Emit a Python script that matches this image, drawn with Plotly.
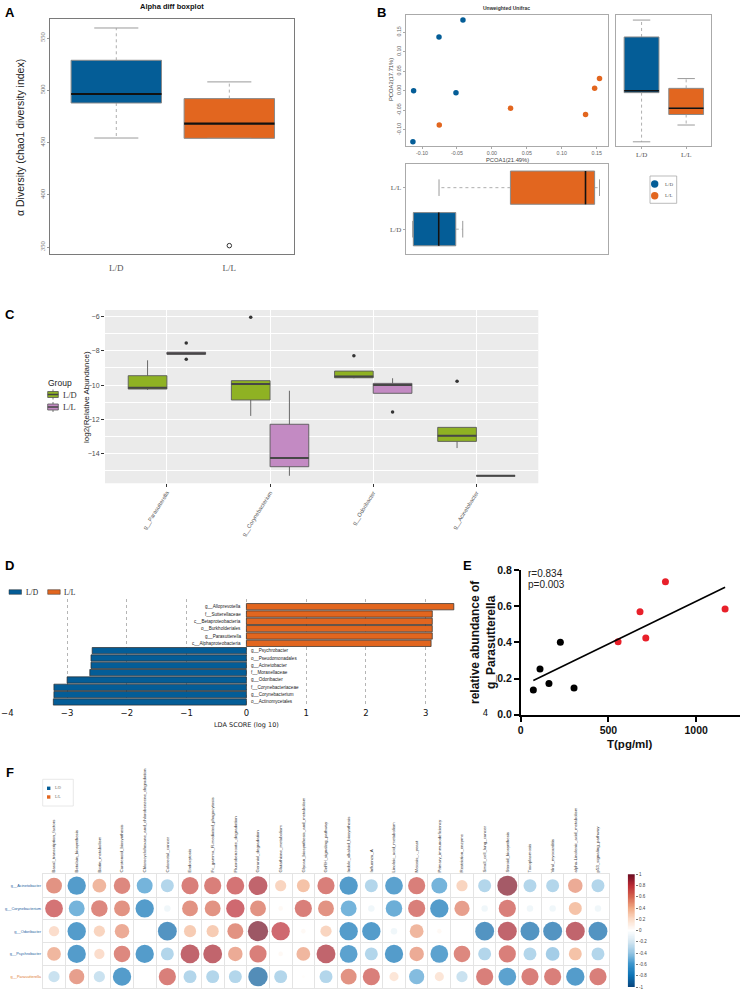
import numpy as np
import plotly.graph_objects as go

# ======================= DATA =======================
# Panel A  (chao1 alpha diversity, box statistics)
A_GROUPS = ["L/D", "L/L"]
A_Q1 = [487.8, 454.0]
A_MEDIAN = [496.4, 468.0]
A_Q3 = [528.7, 492.0]
A_LOWER = [454.3, 454.0]
A_UPPER = [559.6, 508.0]
A_OUTLIER_GROUP = [2]
A_OUTLIER_VALUE = [351.3]

# Panel B  (PCoA, unweighted UniFrac)
B_GROUPS = ["L/D", "L/L"]
B_PC1_LD = [-0.0414, -0.0757, -0.112, -0.0514, -0.113]
B_PC2_LD = [0.181, 0.1377, 0.0, -0.005, -0.131]
B_PC1_LL = [0.154, 0.147, 0.0267, 0.134, -0.0753]
B_PC2_LL = [0.031, 0.006, -0.045, -0.061, -0.088]
B_TICKS = [-0.10, -0.05, 0.00, 0.05, 0.10, 0.15]

# Panel C  (log2 relative abundance box statistics)
C_TAXA = ["g__Parasutterella", "g__Corynebacterium", "g__Odoribacter", "g__Acinetobacter"]
C_LD_Q1 = [-10.23, -10.87, -9.57, -13.29]
C_LD_MED = [-10.15, -9.94, -9.49, -12.96]
C_LD_Q3 = [-9.45, -9.74, -9.18, -12.47]
C_LD_LO = [-10.28, -11.80, -9.60, -13.68]
C_LD_HI = [-8.55, -9.74, -9.18, -12.47]
C_LD_OUT = [[], [-6.04], [-8.28], [-9.78]]
C_LL_Q1 = [-8.20, -14.77, -10.48, -15.30]
C_LL_MED = [-8.15, -14.26, -9.99, -15.30]
C_LL_Q3 = [-8.08, -12.29, -9.90, -15.30]
C_LL_LO = [-8.20, -15.30, -10.48, -15.30]
C_LL_HI = [-8.08, -10.33, -9.60, -15.30]
C_LL_OUT = [[-7.54, -8.49], [], [-11.57], []]
C_YTICKS = [-14, -12, -10, -8, -6]

# Panel D  (LEfSe LDA scores)
D_FEATURES = ["g__Alloprevotella", "f__Sutterellaceae", "c__Betaproteobacteria",
              "o__Burkholderiales", "g__Parasutterella", "c__Alphaproteobacteria",
              "g__Psychrobacter", "o__Pseudomonadales", "g__Acinetobacter",
              "f__Moraxellaceae", "g__Odoribacter", "f__Corynebacteriaceae",
              "g__Corynebacterium", "o__Actinomycetales"]
D_SCORES = [3.47, 3.11, 3.11, 3.11, 3.11, 3.09,
            -2.58, -2.60, -2.60, -2.62, -3.00, -3.22, -3.22, -3.23]
D_GROUP = ["L/L"] * 6 + ["L/D"] * 8
D_TICKS = [-4, -3, -2, -1, 0, 1, 2, 3, 4]

# Panel E  (correlation T vs g_Parasutterella)
E_T_LD = [72, 110, 161, 226, 304]
E_AB_LD = [0.136, 0.252, 0.173, 0.400, 0.148]
E_T_LL = [555, 680, 713, 825, 1165]
E_AB_LL = [0.403, 0.569, 0.424, 0.735, 0.584]
E_STATS_TEXT = ["r=0.834", "p=0.003"]
E_YTICKS = [0.0, 0.2, 0.4, 0.6, 0.8]
E_XTICKS = [0, 500, 1000]

# Panel F  (correlation heatmap genera x KEGG pathways)
F_ROWS = ["g__Acinetobacter", "g__Corynebacterium", "g__Odoribacter",
          "g__Psychrobacter", "g__Parasutterella"]
F_ROW_GROUP = ["L/D", "L/D", "L/D", "L/D", "L/L"]
F_COLS = ["Basal_transcription_factors", "Betalain_biosynthesis", "Biotin_metabolism",
          "Carotenoid_biosynthesis", "Chlorocyclohexane_and_chlorobenzene_degradation",
          "Colorectal_cancer", "Endocytosis", "Fc_gamma_R-mediated_phagocytosis",
          "Fluorobenzoate_degradation", "Geraniol_degradation", "Glutathione_metabolism",
          "Glycan_biosynthesis_and_metabolism", "GnRH_signaling_pathway",
          "Indole_alkaloid_biosynthesis", "Influenza_A", "Linoleic_acid_metabolism",
          "Meiosis_-_yeast", "Primary_immunodeficiency", "Restriction_enzyme",
          "Small_cell_lung_cancer", "Steroid_biosynthesis", "Toxoplasmosis",
          "Viral_myocarditis", "alpha-Linolenic_acid_metabolism", "p53_signaling_pathway"]
F_R = [
    [0.60, -0.80, 0.45, 0.65, -0.60, -0.40, 0.70, 0.70, 0.75, 0.85, 0.30, 0.40, 0.70,
     -0.80, -0.40, -0.75, 0.70, -0.60, 0.30, -0.40, 0.95, -0.40, -0.40, 0.50, -0.40],
    [0.75, -0.60, 0.65, 0.60, -0.80, -0.10, 0.60, 0.60, 0.80, 0.60, 0.05, 0.70, 0.60,
     -0.60, -0.10, -0.65, 0.70, -0.80, 0.55, -0.10, 0.70, -0.10, -0.10, 0.40, -0.10],
    [0.25, -0.80, 0.30, 0.50, 0.00, -0.85, 0.35, 0.35, 0.60, 0.98, 0.80, 0.05, 0.30,
     -0.80, -0.80, -0.10, 0.45, 0.05, 0.00, -0.85, 0.85, -0.85, -0.85, 0.85, -0.85],
    [0.45, -0.80, 0.25, 0.65, -0.80, -0.40, 0.85, 0.85, 0.50, 0.70, 0.05, 0.45, 0.85,
     -0.75, -0.40, -0.80, 0.50, -0.75, 0.65, -0.40, 0.70, -0.40, -0.45, 0.40, -0.40],
    [-0.30, 0.55, -0.30, -0.80, 0.00, 0.70, -0.40, -0.40, -0.40, -0.90, -0.40, 0.02, -0.40,
     0.60, 0.70, 0.20, -0.55, 0.20, -0.30, 0.70, -0.75, 0.70, 0.70, -0.80, 0.70],
]
F_CB_TICKS = [1, 0.8, 0.6, 0.4, 0.2, 0, -0.2, -0.4, -0.6, -0.8, -1]

# ======================= STYLE =======================
W, H = 741, 991
BLUE = "#045d97"
ORANGE = "#e2661f"
GREEN = "#8fb223"
PURPLE = "#c38ac3"
RED = "#e8202a"
GROUP_COL = {"L/D": BLUE, "L/L": ORANGE}
SANS = "Liberation Sans"
SERIF = "Liberation Serif"
RDBU = [[0.0, "#08467f"], [0.1, "#0b72b5"], [0.2, "#3a94cc"], [0.3, "#93c4e2"],
        [0.4, "#d4e6f1"], [0.5, "#ffffff"], [0.6, "#fbdcc8"], [0.7, "#f1a983"],
        [0.8, "#d6654f"], [0.9, "#bb2a33"], [1.0, "#6b0c22"]]


def fx(p):
    return p / W


def fy(p):
    return 1 - p / H


def dx(a, b):
    return [a / W, b / W]


def dy(top, bottom):
    return [1 - bottom / H, 1 - top / H]


fig = go.Figure()
annotations = []
shapes = []


def ann(x, y, text, size, color="#000", family=SANS, weight="normal", xanchor="center",
        yanchor="middle", angle=0, xref="paper", yref="paper", xshift=0):
    annotations.append(dict(
        x=x, y=y, xref=xref, yref=yref, text=text, showarrow=False, xanchor=xanchor,
        yanchor=yanchor, textangle=angle, xshift=xshift,
        font=dict(size=size, color=color, family=family, weight=weight)))


def r_box(xa, ya, pos, q1, med, q3, lo, hi, fill, bw, capw, horizontal=False,
          border="#8a8a8a", wcol="#9a9a9a", medcol="#111111", medw=2.0):
    common = dict(xaxis=xa, yaxis=ya, hoverinfo="skip", showlegend=False)
    if horizontal:
        fig.add_trace(go.Box(y=[pos], q1=[q1], median=[med], q3=[q3], lowerfence=[q1],
                             upperfence=[q3], orientation="h", width=bw, fillcolor=fill,
                             line=dict(color=border, width=1), whiskerwidth=0,
                             boxpoints=False, **common))
        fig.add_trace(go.Scatter(x=[q3, hi, None, q1, lo], y=[pos, pos, None, pos, pos],
                                 mode="lines", line=dict(color=wcol, width=0.8, dash="dot"), **common))
        fig.add_trace(go.Scatter(x=[hi, hi, None, lo, lo],
                                 y=[pos - capw / 2, pos + capw / 2, None, pos - capw / 2, pos + capw / 2],
                                 mode="lines", line=dict(color=wcol, width=1), **common))
        fig.add_trace(go.Scatter(x=[med, med], y=[pos - bw / 2, pos + bw / 2], mode="lines",
                                 line=dict(color=medcol, width=medw), **common))
    else:
        fig.add_trace(go.Box(x=[pos], q1=[q1], median=[med], q3=[q3], lowerfence=[q1],
                             upperfence=[q3], orientation="v", width=bw, fillcolor=fill,
                             line=dict(color=border, width=1), whiskerwidth=0,
                             boxpoints=False, **common))
        fig.add_trace(go.Scatter(y=[q3, hi, None, q1, lo], x=[pos, pos, None, pos, pos],
                                 mode="lines", line=dict(color=wcol, width=0.8, dash="dot"), **common))
        fig.add_trace(go.Scatter(y=[hi, hi, None, lo, lo],
                                 x=[pos - capw / 2, pos + capw / 2, None, pos - capw / 2, pos + capw / 2],
                                 mode="lines", line=dict(color=wcol, width=1), **common))
        fig.add_trace(go.Scatter(y=[med, med], x=[pos - bw / 2, pos + bw / 2], mode="lines",
                                 line=dict(color=medcol, width=medw), **common))


def box_stats(v):
    v = np.sort(np.asarray(v, dtype=float))
    q1, med, q3 = np.percentile(v, [25, 50, 75])
    iqr = q3 - q1
    lo = v[v >= q1 - 1.5 * iqr].min()
    hi = v[v <= q3 + 1.5 * iqr].max()
    return q1, med, q3, lo, hi


# ---------------- Panel A ----------------
for i, g in enumerate(A_GROUPS):
    r_box("x", "y", i + 1, A_Q1[i], A_MEDIAN[i], A_Q3[i], A_LOWER[i], A_UPPER[i],
          GROUP_COL[g], 0.8, 0.39, medw=2.2)
fig.add_trace(go.Scatter(x=A_OUTLIER_GROUP, y=A_OUTLIER_VALUE, mode="markers",
                         marker=dict(symbol="circle-open", size=4.5, color="#333",
                                     line=dict(width=1)),
                         xaxis="x", yaxis="y", showlegend=False, hoverinfo="skip"))

# ---------------- Panel B ----------------
b_pc1 = [B_PC1_LD, B_PC1_LL]
b_pc2 = [B_PC2_LD, B_PC2_LL]
for i, g in enumerate(B_GROUPS):
    fig.add_trace(go.Scatter(x=b_pc1[i], y=b_pc2[i], mode="markers",
                             marker=dict(color=GROUP_COL[g], size=5.5),
                             xaxis="x2", yaxis="y2", showlegend=False, hoverinfo="skip"))
    s2 = box_stats(b_pc2[i])
    r_box("x3", "y3", i + 1, *s2, GROUP_COL[g], 0.78, 0.39, medw=1.6)
    s1 = box_stats(b_pc1[i])
    r_box("x4", "y4", i + 1, *s1, GROUP_COL[g], 0.8, 0.4, horizontal=True, medw=1.6)

# ---------------- Panel C ----------------
c_sets = [
    ("L/D", -0.1875, GREEN, C_LD_Q1, C_LD_MED, C_LD_Q3, C_LD_LO, C_LD_HI, C_LD_OUT),
    ("L/L", 0.1875, PURPLE, C_LL_Q1, C_LL_MED, C_LL_Q3, C_LL_LO, C_LL_HI, C_LL_OUT),
]
for g, off, col, q1s, meds, q3s, los, his, outs in c_sets:
    for i in range(len(C_TAXA)):
        pos = i + 1 + off
        fig.add_trace(go.Box(x=[pos], q1=[q1s[i]], median=[meds[i]], q3=[q3s[i]],
                             lowerfence=[los[i]], upperfence=[his[i]], width=0.375,
                             fillcolor=col, line=dict(color="#5a5a5a", width=0.9),
                             whiskerwidth=0, boxpoints=False, xaxis="x5", yaxis="y5",
                             showlegend=False, hoverinfo="skip"))
        fig.add_trace(go.Scatter(x=[pos - 0.1875, pos + 0.1875], y=[meds[i], meds[i]],
                                 mode="lines", line=dict(color="#474747", width=2),
                                 xaxis="x5", yaxis="y5", showlegend=False, hoverinfo="skip"))
        if outs[i]:
            fig.add_trace(go.Scatter(x=[pos] * len(outs[i]), y=outs[i], mode="markers",
                                     marker=dict(color="#333", size=3.5),
                                     xaxis="x5", yaxis="y5", showlegend=False, hoverinfo="skip"))

# ---------------- Panel D ----------------
d_pos = list(range(len(D_FEATURES)))
fig.add_trace(go.Bar(x=D_SCORES, y=d_pos, orientation="h", width=0.86,
                     marker=dict(color=[GROUP_COL[g] for g in D_GROUP],
                                 line=dict(color="#2b2b2b", width=0.7)),
                     xaxis="x6", yaxis="y6", showlegend=False, hoverinfo="skip"))
for i, (feat, sc) in enumerate(zip(D_FEATURES, D_SCORES)):
    ann(0, d_pos[i], feat, 4.6, color="#222", xref="x6", yref="y6",
        xanchor="right" if sc > 0 else "left", xshift=-3 if sc > 0 else 3)

# ---------------- Panel E ----------------
fig.add_trace(go.Scatter(x=E_T_LD, y=E_AB_LD, mode="markers", marker=dict(color="black", size=7),
                         xaxis="x7", yaxis="y7", showlegend=False, hoverinfo="skip"))
fig.add_trace(go.Scatter(x=E_T_LL, y=E_AB_LL, mode="markers", marker=dict(color=RED, size=7),
                         xaxis="x7", yaxis="y7", showlegend=False, hoverinfo="skip"))
t_all = np.array(E_T_LD + E_T_LL, dtype=float)
a_all = np.array(E_AB_LD + E_AB_LL, dtype=float)
slope, icpt = np.polyfit(t_all, a_all, 1)
xs_fit = np.array([t_all.min(), t_all.max()])
fig.add_trace(go.Scatter(x=xs_fit, y=slope * xs_fit + icpt, mode="lines",
                         line=dict(color="black", width=1.6),
                         xaxis="x7", yaxis="y7", showlegend=False, hoverinfo="skip"))

# ---------------- Panel F ----------------
fxs, fys, fvals = [], [], []
for i, row in enumerate(F_R):
    for j, v in enumerate(row):
        fxs.append(j + 1)
        fys.append(i + 1)
        fvals.append(v)
fsizes = [20.5 * np.sqrt(abs(v)) for v in fvals]
fig.add_trace(go.Scatter(
    x=fxs, y=fys, mode="markers",
    marker=dict(size=fsizes, color=fvals, cmin=-1, cmax=1, colorscale=RDBU,
                line=dict(width=0), showscale=False),
    xaxis="x8", yaxis="y8", showlegend=False, hoverinfo="skip"))
# colour key drawn as a one-column heatmap on its own axis
cb_levels = np.linspace(-1, 1, 201)
fig.add_trace(go.Heatmap(z=[[v] for v in cb_levels], x=[0], y=cb_levels, colorscale=RDBU,
                         zmin=-1, zmax=1, showscale=False, xaxis="x9", yaxis="y9",
                         hoverinfo="skip"))

# ======================= AXES =======================
BLANK = dict(showgrid=False, zeroline=False)
lay = {}
# A
lay["xaxis"] = dict(domain=dx(50.3, 294.3), anchor="y", range=[0.416, 2.575], tickvals=[1, 2],
                    ticktext=A_GROUPS, showline=True, mirror=True, linecolor="#7a7a7a",
                    linewidth=1, ticks="", tickfont=dict(family=SERIF, size=9, color="#555"),
                    ticklabelstandoff=5, **BLANK)
lay["yaxis"] = dict(domain=dy(19, 254), anchor="x", range=[343.3, 568.2],
                    tickvals=[350, 400, 450, 500, 550], tickangle=-90, showline=True,
                    mirror=True, linecolor="#7a7a7a", linewidth=1, ticks="outside", ticklen=2,
                    tickcolor="#999", tickfont=dict(family=SERIF, size=6.5, color="#666"), **BLANK)
# B scatter
bfont = dict(family=SANS, size=5.3, color="#666")
lay["xaxis2"] = dict(domain=dx(406, 607.7), anchor="y2", range=[-0.1229, 0.1657], tickvals=B_TICKS,
                     ticktext=[f"{t:.2f}" for t in B_TICKS], showline=True, mirror=True,
                     linecolor="#aaa", linewidth=1, ticks="outside", ticklen=2, tickcolor="#aaa",
                     tickfont=bfont, **BLANK)
lay["yaxis2"] = dict(domain=dy(15, 145.7), anchor="x2", range=[-0.141, 0.194], tickvals=B_TICKS,
                     ticktext=[f"{t:.2f}" for t in B_TICKS], tickangle=-90, showline=True,
                     mirror=True, linecolor="#aaa", linewidth=1, ticks="outside", ticklen=2,
                     tickcolor="#aaa", tickfont=bfont, **BLANK)
lay["xaxis3"] = dict(domain=dx(615.7, 710.7), anchor="y3", range=[0.42, 2.55], tickvals=[1, 2],
                     ticktext=B_GROUPS, showline=True, mirror=True, linecolor="#aaa", linewidth=1,
                     ticks="outside", ticklen=2, tickcolor="#aaa",
                     tickfont=dict(family=SERIF, size=7, color="#555"), **BLANK)
lay["yaxis3"] = dict(domain=dy(15, 145.7), anchor="x3", range=[-0.141, 0.194], showticklabels=False,
                     showline=True, mirror=True, linecolor="#aaa", linewidth=1, ticks="", **BLANK)
lay["xaxis4"] = dict(domain=dx(405.7, 607.7), anchor="y4", range=[-0.1229, 0.1657],
                     showticklabels=False, showline=True, mirror=True, linecolor="#aaa",
                     linewidth=1, ticks="", **BLANK)
lay["yaxis4"] = dict(domain=dy(164, 253.7), anchor="x4", range=[0.41, 2.57], tickvals=[1, 2],
                     ticktext=B_GROUPS, showline=True, mirror=True, linecolor="#aaa", linewidth=1,
                     ticks="outside", ticklen=2, tickcolor="#aaa",
                     tickfont=dict(family=SERIF, size=7, color="#555"), **BLANK)
# C
lay["xaxis5"] = dict(domain=dx(105, 538.3), anchor="y5", range=[0.4, 4.6], tickvals=[1, 2, 3, 4],
                     ticktext=C_TAXA, tickangle=-58, ticks="outside", ticklen=3, tickcolor="#333",
                     tickfont=dict(family=SANS, size=5.6, color="#555"), showgrid=True,
                     gridcolor="white", gridwidth=1, zeroline=False, showline=False)
lay["yaxis5"] = dict(domain=dy(310, 483.3), anchor="x5", range=[-15.74, -5.61], tickvals=C_YTICKS,
                     ticks="outside", ticklen=3, tickcolor="#333",
                     tickfont=dict(family=SANS, size=7, color="#4d4d4d"), showgrid=True,
                     gridcolor="white", gridwidth=1, zeroline=False, showline=False,
                     minor=dict(dtick=1, tick0=-15, showgrid=True, gridcolor="white", gridwidth=0.5))
# D
lay["xaxis6"] = dict(domain=dx(7.3, 485.5), anchor="y6", range=[-4, 4], tickvals=D_TICKS,
                     ticktext=[("\u2212" + str(abs(t))) if t < 0 else str(t) for t in D_TICKS],
                     showgrid=True, gridcolor="#b5b5b5", griddash="dot", gridwidth=0.8,
                     zeroline=False, showline=False, ticks="",
                     tickfont=dict(family="DejaVu Sans", size=8.5, color="#111"))
lay["yaxis6"] = dict(domain=dy(599, 706), anchor="x6", range=[13.55, -1.05], showticklabels=False,
                     ticks="", showline=False, **BLANK)
# E
efont = dict(family=SANS, size=10.5, color="#111", weight="bold")
lay["xaxis7"] = dict(domain=dx(520.7, 740), anchor="y7", range=[0, 1250], tickvals=E_XTICKS,
                     showline=True, linecolor="black", linewidth=1.6, ticks="outside", ticklen=5,
                     tickwidth=1.6, tickcolor="black", tickfont=efont, **BLANK)
lay["yaxis7"] = dict(domain=dy(570, 714.7), anchor="x7", range=[0, 0.8], tickvals=E_YTICKS,
                     ticktext=[f"{t:.1f}" for t in E_YTICKS], showline=True, linecolor="black",
                     linewidth=1.6, ticks="outside", ticklen=5, tickwidth=1.6, tickcolor="black",
                     tickfont=efont, **BLANK)
# F
row_text = [f"<span style='color:{'#1f5f9f' if g == 'L/D' else '#e07a2f'}'>{r}</span>"
            for r, g in zip(F_ROWS, F_ROW_GROUP)]
lay["xaxis8"] = dict(domain=dx(42.7, 609.3), anchor="y8", range=[0.5, 25.5], side="top",
                     tickvals=list(range(1, len(F_COLS) + 1)), ticktext=F_COLS, tickangle=-90,
                     tickfont=dict(family=SANS, size=4.4, color="#333"), ticks="",
                     showgrid=False, zeroline=False, showline=True, mirror=True,
                     linecolor="#e4e4e4", linewidth=0.8,
                     minor=dict(tick0=0.5, dtick=1, showgrid=True, gridcolor="#e4e4e4", gridwidth=0.8))
lay["yaxis8"] = dict(domain=dy(874.3, 988), anchor="x8", range=[5.5, 0.5],
                     tickvals=list(range(1, len(F_ROWS) + 1)), ticktext=row_text,
                     tickfont=dict(family=SANS, size=3.9), ticks="", showgrid=False,
                     zeroline=False, showline=True, mirror=True, linecolor="#e4e4e4",
                     linewidth=0.8,
                     minor=dict(tick0=0.5, dtick=1, showgrid=True, gridcolor="#e4e4e4", gridwidth=0.8))
# F colour key
lay["xaxis9"] = dict(domain=dx(627.7, 635), anchor="y9", range=[-0.5, 0.5], showticklabels=False,
                     ticks="", showline=False, **BLANK)
lay["yaxis9"] = dict(domain=dy(874.3, 987), anchor="x9", range=[-1, 1], side="right",
                     tickvals=F_CB_TICKS, ticktext=[f"{t:g}" for t in F_CB_TICKS],
                     ticks="outside", ticklen=2, tickcolor="#777", showline=False,
                     tickfont=dict(family=SANS, size=4.5, color="#444"), **BLANK)

# ======================= DECORATIONS =======================
for letter, x, y in [("A", 3, 3), ("B", 375, 3), ("C", 3, 305), ("D", 3, 556), ("E", 461, 556), ("F", 4, 763)]:
    ann(fx(x), fy(y), letter, 13, weight="bold", xanchor="left", yanchor="top")

# A texts
ann(fx(172), fy(7), "Alpha diff boxplot", 7.5, color="#111", weight="bold")
ann(fx(20), fy(138), "\u03b1 Diversity (chao1 diversity index)", 10.5, color="#222", angle=-90)

# B texts
ann(fx(506), fy(8.5), "Unweighted Unifrac", 5, color="#333", weight="bold")
ann(fx(507), fy(160), "PCOA1(21.49%)", 5.8, color="#444")
ann(fx(391), fy(80), "PCOA2(17.71%)", 5.8, color="#444", angle=-90)
shapes.append(dict(type="rect", xref="paper", yref="paper", x0=fx(650), x1=fx(676.7),
                   y0=fy(203.3), y1=fy(176), line=dict(color="#aaa", width=0.8)))
for k, g in enumerate(B_GROUPS):
    cy = 184 + 11.7 * k
    shapes.append(dict(type="circle", xref="paper", yref="paper", x0=fx(651), x1=fx(658.4),
                       y0=fy(cy + 3.7), y1=fy(cy - 3.7), fillcolor=GROUP_COL[g], line=dict(width=0)))
    ann(fx(663), fy(cy), g, 5, color="#555", family=SERIF, xanchor="left")

# C texts / legend / background
shapes.append(dict(type="rect", xref="x5 domain", yref="y5 domain", x0=0, x1=1, y0=0, y1=1,
                   fillcolor="#ebebeb", line=dict(width=0), layer="below"))
ann(fx(86), fy(397), "log2(Relative Abundance)", 8, color="#222", angle=-90)
ann(fx(46), fy(383), "Group", 8.5, color="#222", xanchor="left")
for k, (g, col) in enumerate([("L/D", GREEN), ("L/L", PURPLE)]):
    cy = 394.5 + 12.5 * k
    shapes.append(dict(type="line", xref="paper", yref="paper", x0=fx(53), x1=fx(53),
                       y0=fy(cy - 5), y1=fy(cy + 5), line=dict(color="#555", width=0.8)))
    shapes.append(dict(type="rect", xref="paper", yref="paper", x0=fx(47.7), x1=fx(58.3),
                       y0=fy(cy + 3), y1=fy(cy - 3), fillcolor=col, line=dict(color="#555", width=0.8)))
    shapes.append(dict(type="line", xref="paper", yref="paper", x0=fx(47.7), x1=fx(58.3),
                       y0=fy(cy), y1=fy(cy), line=dict(color="#444", width=1.5)))
    ann(fx(61), fy(cy), g, 8.5, color="#333", family=SERIF, xanchor="left")

# D legend / title
for k, g in enumerate(["L/D", "L/L"]):
    x0 = 9 + 38.7 * k
    shapes.append(dict(type="rect", xref="paper", yref="paper", x0=fx(x0), x1=fx(x0 + 12.5),
                       y0=fy(594.3), y1=fy(589.7), fillcolor=GROUP_COL[g],
                       line=dict(color="#333", width=0.5)))
    ann(fx(x0 + 14.5), fy(592), g, 7.5, color="#222", family=SERIF, xanchor="left")
ann(fx(246.5), fy(724.5), "LDA SCORE (log 10)", 6.5, color="#222", family="DejaVu Sans")

# E texts
ann(fx(483), fy(642), "relative abundance of<br>g_Parasutterella", 12, color="#111",
    weight="bold", angle=-90)
ann(fx(630), fy(743.5), "T(pg/ml)", 11.5, color="#111", weight="bold")
ann(fx(526), fy(573), E_STATS_TEXT[0], 10, color="#222", xanchor="left")
ann(fx(526), fy(584.5), E_STATS_TEXT[1], 10, color="#222", xanchor="left")

# F legend
shapes.append(dict(type="rect", xref="paper", yref="paper", x0=fx(42.7), x1=fx(73.3),
                   y0=fy(806), y1=fy(779.3), line=dict(color="#e2e2e2", width=0.8)))
for k, g in enumerate(["L/D", "L/L"]):
    cy = 788.3 + 8.7 * k
    shapes.append(dict(type="rect", xref="paper", yref="paper", x0=fx(47), x1=fx(50.4),
                       y0=fy(cy + 1.7), y1=fy(cy - 1.7), fillcolor=GROUP_COL[g], line=dict(width=0)))
    ann(fx(52.5), fy(cy), g, 3.8, color="#666", family=SERIF, xanchor="left")

fig.update_layout(
    width=W, height=H, margin=dict(l=0, r=0, t=0, b=0, autoexpand=False), autosize=False,
    paper_bgcolor="white", plot_bgcolor="white", showlegend=False,
    font=dict(family=SANS), annotations=annotations, shapes=shapes, **lay)

fig.write_html("out.html", config={"displayModeBar": False},
               post_script="document.body.style.margin='0';document.body.style.overflow='hidden';")
